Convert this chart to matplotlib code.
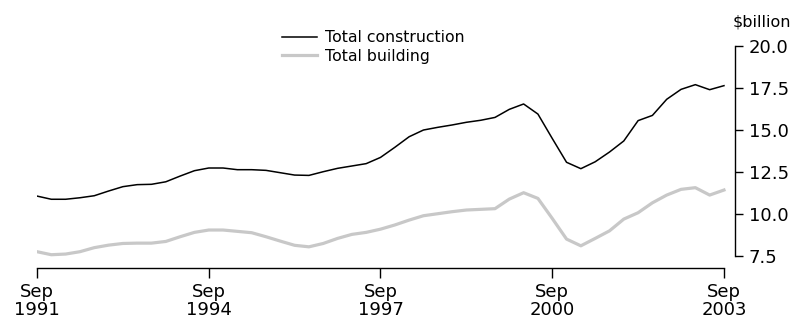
import matplotlib
matplotlib.use("Agg")
from matplotlib import pyplot as plt
import pandas as pd

# quarterly, Sep 1991 to Sep 2003, $billion
quarters = pd.period_range("1991Q3", "2003Q3", freq="Q")
construction = [11.07, 10.88, 10.88, 10.97, 11.09, 11.37, 11.63, 11.75, 11.77, 11.92,
                12.26, 12.58, 12.74, 12.74, 12.64, 12.64, 12.60, 12.46, 12.32, 12.30,
                12.52, 12.72, 12.86, 13.00, 13.37, 13.97, 14.60, 15.00, 15.16, 15.30,
                15.46, 15.58, 15.75, 16.23, 16.55, 15.95, 14.50, 13.08, 12.70, 13.11,
                13.69, 14.35, 15.56, 15.87, 16.83, 17.42, 17.70, 17.40, 17.64]
building = [7.76, 7.58, 7.62, 7.76, 8.00, 8.15, 8.25, 8.27, 8.27, 8.37,
            8.65, 8.91, 9.05, 9.05, 8.97, 8.89, 8.65, 8.39, 8.14, 8.05,
            8.25, 8.55, 8.79, 8.91, 9.10, 9.35, 9.64, 9.90, 10.02, 10.14,
            10.24, 10.28, 10.32, 10.89, 11.27, 10.93, 9.74, 8.51, 8.11, 8.55,
            9.00, 9.70, 10.08, 10.67, 11.13, 11.47, 11.57, 11.13, 11.43]
tick_labels = ["Sep\n1991", "Sep\n1994", "Sep\n1997", "Sep\n2000", "Sep\n2003"]
y_ticks = [7.5, 10.0, 12.5, 15.0, 17.5, 20.0]

plt.rcParams['font.family'] = ['DejaVu Sans']
plt.rcParams['font.size'] = 12

fig = plt.figure(figsize=(7.92, 3.22), dpi=100)
ax = fig.add_axes([37/792, 1 - 268/322, (735 - 37)/792, (268 - 46)/322])

x = list(range(len(quarters)))
ax.plot(x, construction, color="black", lw=1.1, label="Total construction")
ax.plot(x, building, color="#c8c8c8", lw=2.3, label="Total building")

ax.set_xlim(0, 48.77)
ax.set_ylim(6.79, 20.0)

ax.spines['top'].set_visible(False)
ax.spines['left'].set_visible(False)
ax.spines['bottom'].set_bounds(0, 48)
ax.spines['right'].set_bounds(7.5, 20.0)
for s in ('bottom', 'right'):
    ax.spines[s].set_linewidth(1.0)

ax.set_xticks([i for i in x if quarters[i].quarter == 3 and (quarters[i].year - 1991) % 3 == 0])
ax.set_xticklabels(tick_labels, linespacing=1.0, fontsize=13)
ax.yaxis.tick_right()
ax.set_yticks(y_ticks)
ax.set_yticklabels([f"{v:.1f}" for v in y_ticks], fontsize=13)
ax.tick_params(axis='x', direction='out', length=7, width=1.0, pad=4)
ax.tick_params(axis='y', direction='out', length=6, width=1.0, pad=4)

fig.text(733/792, 1 - 22/322, "$billion", ha='left', va='center', fontsize=11.5)

leg = ax.legend(loc='upper left', bbox_to_anchor=((282 - 37)/698, 1.072), frameon=False,
                fontsize=11.3, handlelength=2.2, handletextpad=0.55, labelspacing=0.25,
                borderaxespad=0, borderpad=0)

fig.savefig("out.png", dpi=100)
